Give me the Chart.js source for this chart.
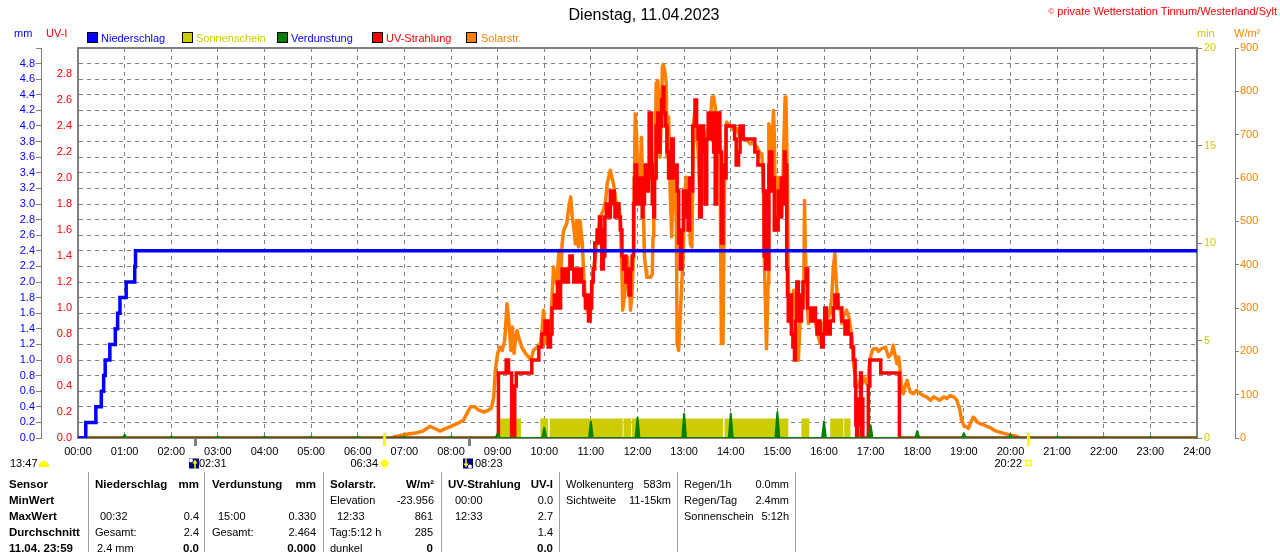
<!DOCTYPE html>
<html><head><meta charset="utf-8">
<script src="https://cdn.jsdelivr.net/npm/chart.js@4.4.0/dist/chart.umd.min.js"></script>
<style>
html,body{margin:0;padding:0;background:#fff;}
body{width:1280px;height:552px;position:relative;overflow:hidden;font-family:'Liberation Sans',Arial,sans-serif;font-size:11px;color:#000;}
.a{position:absolute;white-space:nowrap;line-height:13px;}
.b{font-weight:bold;font-size:11.5px;}
.vl{position:absolute;top:472px;height:80px;width:1px;background:#a0a0a0;}
.box{position:absolute;width:9px;height:9px;border:1px solid #000;top:32px;}
#wrap{position:absolute;left:0;top:0;width:1280px;height:470px;}
</style></head>
<body>
<div id="wrap"><canvas id="c" width="1280" height="470"></canvas></div>

<div class="a" style="left:0;width:1280px;top:6px;text-align:center;font-size:16px;line-height:18px;padding-left:4px;">Dienstag, 11.04.2023</div>
<div class="a" style="right:3px;top:5px;color:#ff0000;"><span style="font-size:8px;vertical-align:top;">©</span> private Wetterstation Tinnum/Westerland/Sylt</div>

<div class="a" style="left:14px;top:27px;color:#0000ff;">mm</div>
<div class="a" style="left:46px;top:27px;color:#ff0000;">UV-I</div>
<div class="a" style="left:1197px;top:27px;color:#cccc00;">min</div>
<div class="a" style="left:1234px;top:27px;color:#ff8000;">W/m²</div>

<div class="box" style="left:87px;background:#0000ff;"></div>
<div class="a" style="left:101px;top:32px;color:#0000ff;">Niederschlag</div>
<div class="box" style="left:182px;background:#cccc00;"></div>
<div class="a" style="left:196px;top:32px;color:#cccc00;">Sonnenschein</div>
<div class="box" style="left:277px;background:#008000;"></div>
<div class="a" style="left:291px;top:32px;color:#0000ff;">Verdunstung</div>
<div class="box" style="left:372px;background:#ff0000;"></div>
<div class="a" style="left:386px;top:32px;color:#ff0000;">UV-Strahlung</div>
<div class="box" style="left:466px;background:#ff8000;"></div>
<div class="a" style="left:481px;top:32px;color:#ff8000;">Solarstr.</div>

<div class="a" style="left:10px;top:457px;">13:47</div>
<div style="position:absolute;left:39px;top:461px;width:10px;height:6px;background:#ffff00;border-radius:5px 5px 1px 1px;"></div>

<div class="vl" style="left:88px;"></div>
<div class="vl" style="left:204px;"></div>
<div class="vl" style="left:323px;"></div>
<div class="vl" style="left:441px;"></div>
<div class="vl" style="left:559px;"></div>
<div class="vl" style="left:677px;"></div>
<div class="vl" style="left:795px;"></div>

<div class="a b" style="left:9px;top:478px;">Sensor</div>
<div class="a b" style="left:9px;top:494px;">MinWert</div>
<div class="a b" style="left:9px;top:510px;">MaxWert</div>
<div class="a b" style="left:9px;top:526px;">Durchschnitt</div>
<div class="a b" style="left:9px;top:542px;">11.04. 23:59</div>

<div class="a b" style="left:95px;top:478px;">Niederschlag</div>
<div class="a b" style="right:1081px;top:478px;">mm</div>
<div class="a" style="left:100px;top:510px;">00:32</div>
<div class="a" style="right:1081px;top:510px;">0.4</div>
<div class="a" style="left:95px;top:526px;">Gesamt:</div>
<div class="a" style="right:1081px;top:526px;">2.4</div>
<div class="a" style="left:97px;top:542px;">2.4 mm</div>
<div class="a b" style="right:1081px;top:542px;">0.0</div>

<div class="a b" style="left:212px;top:478px;">Verdunstung</div>
<div class="a b" style="right:964px;top:478px;">mm</div>
<div class="a" style="left:218px;top:510px;">15:00</div>
<div class="a" style="right:964px;top:510px;">0.330</div>
<div class="a" style="left:212px;top:526px;">Gesamt:</div>
<div class="a" style="right:964px;top:526px;">2.464</div>
<div class="a b" style="right:964px;top:542px;">0.000</div>

<div class="a b" style="left:330px;top:478px;">Solarstr.</div>
<div class="a b" style="right:846px;top:478px;">W/m²</div>
<div class="a" style="left:330px;top:494px;">Elevation</div>
<div class="a" style="right:846px;top:494px;">-23.956</div>
<div class="a" style="left:337px;top:510px;">12:33</div>
<div class="a" style="right:847px;top:510px;">861</div>
<div class="a" style="left:330px;top:526px;">Tag:5:12 h</div>
<div class="a" style="right:847px;top:526px;">285</div>
<div class="a" style="left:330px;top:542px;">dunkel</div>
<div class="a b" style="right:847px;top:542px;">0</div>

<div class="a b" style="left:448px;top:478px;">UV-Strahlung</div>
<div class="a b" style="right:727px;top:478px;">UV-I</div>
<div class="a" style="left:455px;top:494px;">00:00</div>
<div class="a" style="right:727px;top:494px;">0.0</div>
<div class="a" style="left:455px;top:510px;">12:33</div>
<div class="a" style="right:727px;top:510px;">2.7</div>
<div class="a" style="right:727px;top:526px;">1.4</div>
<div class="a b" style="right:727px;top:542px;">0.0</div>

<div class="a" style="left:566px;top:478px;">Wolkenunterg</div>
<div class="a" style="right:609px;top:478px;">583m</div>
<div class="a" style="left:566px;top:494px;">Sichtweite</div>
<div class="a" style="right:609px;top:494px;">11-15km</div>

<div class="a" style="left:684px;top:478px;">Regen/1h</div>
<div class="a" style="right:491px;top:478px;">0.0mm</div>
<div class="a" style="left:684px;top:494px;">Regen/Tag</div>
<div class="a" style="right:491px;top:494px;">2.4mm</div>
<div class="a" style="left:684px;top:510px;">Sonnenschein</div>
<div class="a" style="right:491px;top:510px;">5:12h</div>

<script>
// ---- x tick labels ----
const xLabels = ['00:00','01:00','02:00','03:00','04:00','05:00','06:00','07:00','08:00','09:00','10:00','11:00','12:00','13:00','14:00','15:00','16:00','17:00','18:00','19:00','20:00','21:00','22:00','23:00','24:00'];

// ---- Niederschlag (cumulative mm), time in minutes ----
const rainT = [0,10,23,30,33,35,41,48,51,54,62,73,74,1440];
const rainV = [0,0.2,0.4,0.6,0.8,1.0,1.2,1.4,1.6,1.8,2.0,2.2,2.4,2.4];

// ---- Verdunstung (hourly, mm) ----
const evapHours = [1,2,3,4,5,6,7,8,9,10,11,12,13,14,15,16,17,18,19,20,21,22,23];
const evapV = [0.04,0.02,0.02,0.02,0.02,0.02,0.02,0.02,0.06,0.13,0.21,0.26,0.31,0.31,0.33,0.21,0.16,0.09,0.06,0.04,0.02,0.01,0.01];

// ---- Sonnenschein (min per minute) ----
const sunT = [0,540,570,595,605,607,701,702,712,713,830,832,914,931,941,968,985,986,994,1440];
const sunV = [0,1,0,1,0,1,0,1,0,1,0,1,0,1,0,1,0,1,0,0];

// ---- UV-Strahlung (UV-I) ----
const uvT = [0,541,551,554,558,562,564,584,593,597,601,605,608,610,613,615,617,620,621,623,625,627,629,631,633,636,638,640,642,644,648,651,653,655,657,659,661,663,665,668,670,671,673,674,676,678,680,683,685,687,688,690,691,693,696,698,700,702,704,705,707,709,711,713,715,716,717,719,721,723,725,726,727,729,730,732,734,735,738,739,741,742,744,746,748,749,751,753,754,756,758,760,762,764,766,768,771,773,775,777,779,781,783,785,787,789,791,794,796,798,800,802,805,807,809,811,813,815,818,820,822,824,826,828,830,832,834,845,847,850,852,856,871,875,882,883,885,886,887,889,890,893,895,896,898,899,901,903,905,907,909,910,912,913,914,916,918,920,922,923,925,927,929,931,933,937,939,943,945,949,951,953,955,957,959,961,963,965,968,972,974,978,983,987,989,991,995,998,1000,1001,1002,1003,1004,1005,1007,1008,1009,1010,1016,1017,1019,1033,1057,1440];
const uvV = [0,0.5,0.6,0.5,0,0.4,0.5,0.6,0.7,0.8,0.9,0.7,0.8,1.0,1.1,1.0,1.2,1.0,1.2,1.3,1.2,1.3,1.2,1.3,1.4,1.3,1.2,1.3,1.2,1.3,1.2,1.1,1.0,1.1,0.9,1.0,1.2,1.3,1.5,1.6,1.5,1.7,1.6,1.3,1.4,1.7,1.8,1.7,1.9,1.8,1.9,1.8,1.7,1.8,1.7,1.6,1.4,1.3,1.4,1.2,1.3,1.1,1.3,1.4,1.8,2.0,2.1,1.8,1.9,2.0,1.8,1.7,1.8,2.0,2.1,1.9,2.0,2.5,2.1,1.8,1.7,2.0,2.4,2.5,2.2,2.4,2.6,2.7,2.5,2.4,2.2,2.0,2.1,2.3,2.0,2.1,1.9,1.5,1.3,1.6,1.9,1.7,1.9,1.6,2.0,1.9,2.4,2.6,2.4,2.3,1.7,2.4,2.2,1.8,2.3,2.5,2.3,2.5,2.2,1.8,2.5,2.5,2.2,1.5,2.1,2.0,2.4,2.3,2.1,2.2,2.4,2.3,2.2,2.1,1.9,1.4,1.3,1.9,1.3,2.1,2.2,1.9,2.0,1.6,1.7,1.6,1.9,1.7,2.0,1.8,2.2,2.1,1.3,1.1,0.9,1.1,0.8,0.7,0.6,0.9,1.2,1.1,0.9,1.0,1.2,1.3,1.0,0.9,1.0,0.9,0.8,0.9,0.8,0.7,0.8,1.0,0.9,0.8,0.9,1.0,1.1,1.0,0.9,0.8,0.9,0.8,0.7,0.6,0.4,0.1,0.0,0.3,0.2,0.1,0.5,0.0,0.3,0.0,0.0,0.4,0.6,0.5,0.0,0.0];

// ---- Solarstrahlung (W/m²) ----
const solarT = [405,414,420,427,436,444,453,459,466,472,480,490,496,501,505,511,515,522,528,532,535,537,540,543,546,549,550,552,554,555,557,559,561,563,565,567,571,576,580,583,586,591,595,597,599,601,602,605,608,610,612,614,616,619,621,623,625,627,629,631,634,636,638,640,642,644,646,649,651,653,655,657,659,661,664,666,668,670,672,674,676,679,681,683,685,687,689,691,694,696,698,700,701,703,705,707,709,711,713,715,716,717,719,720,722,724,725,727,729,731,732,737,739,740,741,743,744,746,748,749,751,752,753,755,757,758,760,762,764,766,768,770,771,773,775,777,779,781,783,786,788,790,792,794,796,798,801,803,805,807,809,811,814,816,818,820,822,824,826,828,830,832,834,835,839,844,848,852,856,861,865,869,874,878,880,882,883,885,886,888,889,891,893,895,896,898,900,901,904,906,908,910,911,913,914,916,917,919,921,923,925,927,929,931,934,935,936,938,940,942,944,947,949,951,953,955,959,962,964,966,968,970,972,974,975,977,979,981,983,985,989,992,994,996,998,1000,1002,1004,1007,1009,1011,1013,1015,1017,1019,1022,1024,1028,1030,1034,1039,1043,1047,1049,1051,1054,1056,1058,1060,1062,1064,1067,1069,1071,1075,1079,1084,1088,1092,1097,1101,1105,1109,1114,1118,1122,1127,1131,1135,1137,1140,1144,1146,1148,1152,1154,1157,1161,1165,1169,1174,1178,1182,1187,1193,1197,1202,1208,1210];
const solarV = [2,5,8,10,12,16,27,22,16,21,27,35,41,58,72,72,65,60,64,69,95,156,195,210,202,225,248,310,279,256,202,256,195,225,248,233,210,195,187,179,202,210,218,248,295,264,218,225,241,325,395,364,356,433,356,448,479,487,495,525,556,510,487,448,502,441,502,448,371,318,295,287,279,333,402,418,464,479,510,518,525,548,587,602,618,602,587,564,525,541,495,387,295,325,356,418,371,295,333,433,587,748,694,625,587,633,694,572,418,387,371,371,379,464,541,664,818,825,771,648,756,856,862,848,818,648,741,572,464,602,587,495,218,202,279,356,433,572,602,564,448,441,725,756,702,664,525,595,664,541,702,718,741,787,787,764,741,694,702,218,218,587,725,729,721,710,714,694,694,687,679,679,671,656,656,587,433,279,206,356,725,710,664,756,702,479,495,602,587,510,664,787,783,587,356,295,264,279,341,310,202,179,264,295,356,548,433,318,264,279,295,287,264,248,233,218,264,271,295,279,295,325,395,425,387,325,302,295,264,279,295,279,256,233,171,148,125,118,133,125,141,133,125,141,179,202,206,206,200,206,210,187,195,214,195,171,187,156,110,102,118,133,118,106,102,110,102,98,95,87,95,91,87,95,91,98,95,87,64,41,29,25,22,33,48,45,37,33,31,27,24,19,16,13,10,8,6,4,2];

// ---- event markers below the time axis ----
const eventTimes = [151,394,503,1222];
const eventLabels = ['02:31','06:34','08:23','20:22'];
const eventKinds = ['moonrise','sunrise','moonset','sunset'];

const pts = (xs, ys) => xs.map((t, i) => ({x: t, y: ys[i]}));
const evapPts = [{x:0,y:0}];
evapHours.forEach((h, i) => {
  evapPts.push({x: h*60-2.5, y: 0}, {x: h*60, y: evapV[i]}, {x: h*60+2.5, y: 0});
});
evapPts.push({x:1440,y:0});

const FONT = "'Liberation Sans', Arial, sans-serif";
Chart.defaults.font.family = FONT;
Chart.defaults.font.size = 11;

const framePlugin = {
  id: 'frame',
  beforeDatasetsDraw(chart) {
    const {ctx, chartArea: a} = chart;
    ctx.save();
    ctx.strokeStyle = '#808080';
    ctx.lineWidth = 2;
    ctx.strokeRect(a.left, a.top, a.right - a.left, a.bottom - a.top);
    ctx.restore();
  },
  afterDraw(chart) {
    const {ctx, chartArea: a} = chart;
    const xs = chart.scales.x;
    ctx.save();
    ctx.font = '11px ' + FONT;
    ctx.textBaseline = 'middle';
    const ty = a.bottom + 25.5;
    eventTimes.forEach((t, i) => {
      const px = Math.round(xs.getPixelForValue(t));
      const kind = eventKinds[i];
      if (kind === 'sunrise' || kind === 'sunset') {
        ctx.fillStyle = '#ffff00';
        ctx.fillRect(px - 1, a.bottom - 5, 3, 13);
      } else {
        ctx.fillStyle = '#808080';
        ctx.fillRect(px - 1, a.bottom, 3, 8);
      }
      ctx.fillStyle = '#000';
      if (kind === 'moonrise') {
        ctx.fillStyle = '#000080';
        ctx.fillRect(px - 6, ty - 5, 10, 10);
        ctx.fillStyle = '#ffffff';
        ctx.beginPath(); ctx.arc(px - 4, ty - 3, 2, 0, Math.PI*2); ctx.fill();
        ctx.strokeStyle = '#ffff00'; ctx.lineWidth = 1.5;
        ctx.beginPath(); ctx.moveTo(px, ty + 5); ctx.lineTo(px, ty - 2); ctx.stroke();
        ctx.fillStyle = '#ffff00';
        ctx.beginPath(); ctx.moveTo(px - 2.5, ty); ctx.lineTo(px + 2.5, ty); ctx.lineTo(px, ty - 4); ctx.fill();
        ctx.fillStyle = '#000'; ctx.textAlign = 'left';
        ctx.fillText(eventLabels[i], px + 4, ty);
      } else if (kind === 'moonset') {
        ctx.fillStyle = '#000080';
        ctx.fillRect(px - 6, ty - 5, 10, 10);
        ctx.fillStyle = '#ffffff';
        ctx.beginPath(); ctx.arc(px + 1, ty + 3, 2, 0, Math.PI*2); ctx.fill();
        ctx.strokeStyle = '#ffff00'; ctx.lineWidth = 1.5;
        ctx.beginPath(); ctx.moveTo(px - 3, ty - 5); ctx.lineTo(px - 3, ty + 1); ctx.stroke();
        ctx.fillStyle = '#ffff00';
        ctx.beginPath(); ctx.moveTo(px - 5.5, ty); ctx.lineTo(px - 0.5, ty); ctx.lineTo(px - 3, ty + 4); ctx.fill();
        ctx.fillStyle = '#000'; ctx.textAlign = 'left';
        ctx.fillText(eventLabels[i], px + 6, ty);
      } else if (kind === 'sunrise') {
        ctx.strokeStyle = '#ffff80'; ctx.lineWidth = 1;
        for (let k = 0; k < 8; k++) {
          const ang = k * Math.PI / 4;
          ctx.beginPath();
          ctx.moveTo(px + 0.5 + Math.cos(ang)*3.5, ty + Math.sin(ang)*3.5);
          ctx.lineTo(px + 0.5 + Math.cos(ang)*5.5, ty + Math.sin(ang)*5.5);
          ctx.stroke();
        }
        ctx.fillStyle = '#ffff00';
        ctx.beginPath(); ctx.arc(px + 0.5, ty, 3.5, 0, Math.PI*2); ctx.fill();
        ctx.fillStyle = '#000'; ctx.textAlign = 'right';
        ctx.fillText(eventLabels[i], px - 6, ty);
      } else {
        ctx.strokeStyle = '#ffff00'; ctx.lineWidth = 1.5;
        ctx.strokeRect(px - 2, ty - 3, 5, 5);
        ctx.fillStyle = '#000'; ctx.textAlign = 'right';
        ctx.fillText(eventLabels[i], px - 6, ty);
      }
    });
    ctx.restore();
  }
};

const DASH = [4, 4];
const GRAY = '#808080';

new Chart(document.getElementById('c'), {
  type: 'line',
  data: {
    datasets: [
      {label:'Niederschlag', data: pts(rainT, rainV), yAxisID:'yMM', borderColor:'#0000ff', borderWidth:3.5, stepped:true, pointRadius:0, fill:false, order:0},
      {label:'Verdunstung', data: evapPts, yAxisID:'yMM', borderColor:'#008000', backgroundColor:'#008000', borderWidth:2, pointRadius:0, fill:'origin', borderJoinStyle:'round', order:1},
      {label:'UV-Strahlung', data: pts(uvT, uvV), yAxisID:'yUV', borderColor:'#ff0000', borderWidth:3.5, stepped:true, pointRadius:0, fill:false, order:2},
      {label:'Solarstr.', data: pts(solarT, solarV), yAxisID:'yW', borderColor:'#ff8000', borderWidth:3.5, pointRadius:0, fill:false, borderJoinStyle:'round', order:3},
      {label:'Sonnenschein', data: pts(sunT, sunV), yAxisID:'yMin', borderColor:'rgba(0,0,0,0)', backgroundColor:'#cccc00', borderWidth:0, stepped:true, pointRadius:0, fill:'origin', order:4}
    ]
  },
  options: {
    responsive: false,
    animation: false,
    devicePixelRatio: 1,
    parsing: true,
    layout: {padding: {top: 48, left: 0, right: 0, bottom: 0}},
    plugins: {legend: {display: false}, title: {display: false}, tooltip: {enabled: false}},
    events: [],
    scales: {
      x: {
        type: 'linear', position: 'bottom', min: 0, max: 1440,
        afterFit: s => { s.height = 32; },
        ticks: {stepSize: 60, autoSkip: false, maxRotation: 0, color: '#000', padding: 7,
          callback: v => xLabels[Math.round(v / 60)]},
        grid: {display: true, drawOnChartArea: true, drawTicks: false, color: GRAY, lineWidth: 1},
        border: {display: false, dash: DASH}
      },
      yMM: {
        type: 'linear', position: 'left', weight: 2, min: 0, max: 5,
        afterFit: s => { s.width = 41; },
        ticks: {stepSize: 0.2, autoSkip: false, color: '#0000ff', padding: 1,
          callback: v => v > 4.9 ? '' : v.toFixed(1)},
        grid: {display: true, drawOnChartArea: true, drawTicks: true, tickLength: 5, color: GRAY, lineWidth: 1,
          tickColor: GRAY, tickWidth: 1, tickBorderDash: []},
        border: {display: true, color: GRAY, width: 1, dash: DASH}
      },
      yUV: {
        type: 'linear', position: 'left', weight: 1, min: 0, max: 3,
        afterFit: s => { s.width = 37; },
        ticks: {stepSize: 0.2, autoSkip: false, color: '#ff0000', padding: 6,
          callback: v => v > 2.9 ? '' : v.toFixed(1)},
        grid: {display: false, drawOnChartArea: false, drawTicks: false},
        border: {display: false}
      },
      yMin: {
        type: 'linear', position: 'right', weight: 1, min: 0, max: 20,
        afterFit: s => { s.width = 38; },
        ticks: {stepSize: 5, autoSkip: false, color: '#cccc00', padding: 2},
        grid: {display: true, drawOnChartArea: false, drawTicks: true, tickLength: 5, tickColor: GRAY, tickWidth: 1, color: GRAY},
        border: {display: false}
      },
      yW: {
        type: 'linear', position: 'right', weight: 2, min: 0, max: 900,
        afterFit: s => { s.width = 45; },
        ticks: {stepSize: 100, autoSkip: false, color: '#ff8000', padding: 1},
        grid: {display: true, drawOnChartArea: false, drawTicks: true, tickLength: 4, tickColor: GRAY, tickWidth: 1, color: GRAY},
        border: {display: true, color: GRAY, width: 1}
      }
    }
  },
  plugins: [framePlugin]
});
</script>
</body></html>
